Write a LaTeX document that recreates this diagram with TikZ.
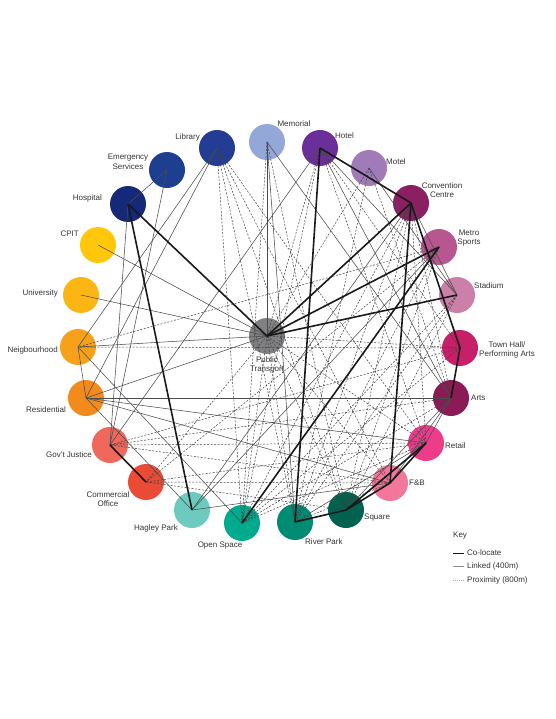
\documentclass[tikz,border=0pt]{standalone}
\usepackage{fontspec}
\setmainfont{Liberation Sans}

\definecolor{cmem}{HTML}{93A8D8}
\definecolor{chot}{HTML}{6B2F99}
\definecolor{cmot}{HTML}{A07BB7}
\definecolor{ccon}{HTML}{8A1F62}
\definecolor{cmet}{HTML}{B8568F}
\definecolor{csta}{HTML}{CC7FA9}
\definecolor{ctwn}{HTML}{C71F68}
\definecolor{cart}{HTML}{8A1B55}
\definecolor{cret}{HTML}{EC3C8A}
\definecolor{cfnb}{HTML}{F2779B}
\definecolor{csqu}{HTML}{00624F}
\definecolor{criv}{HTML}{008C73}
\definecolor{cops}{HTML}{00AA8D}
\definecolor{chag}{HTML}{6DCABF}
\definecolor{ccom}{HTML}{EB4B36}
\definecolor{cgov}{HTML}{F0675B}
\definecolor{cres}{HTML}{F28B1C}
\definecolor{cnei}{HTML}{F7A11A}
\definecolor{cuni}{HTML}{FBB614}
\definecolor{ccpit}{HTML}{FFC708}
\definecolor{chos}{HTML}{152978}
\definecolor{ceme}{HTML}{1E3F8F}
\definecolor{clib}{HTML}{233C94}
\definecolor{cpt}{HTML}{808082}

\tikzset{
  spot/.style={circle, minimum size=36pt, inner sep=0pt},
  lbl/.style={font=\fontsize{8}{9.5}\selectfont, text=black!80, inner sep=0pt, align=center},
  colocate/.style={line width=1.6pt, black!90},
  linked/.style={line width=0.55pt, black!70},
  proximity/.style={line width=0.5pt, black!75, dash pattern=on 2pt off 1.5pt},
}

\begin{document}
\begin{tikzpicture}[x=1pt,y=-1pt]
        \useasboundingbox (0,0) rectangle (555,719);

        \node[spot, fill=cmem] (mem) at (267,142) {};
        \node[spot, fill=chot] (hot) at (320,148) {};
        \node[spot, fill=cmot] (mot) at (369,168) {};
        \node[spot, fill=ccon] (con) at (411,203) {};
        \node[spot, fill=cmet] (met) at (439,247) {};
        \node[spot, fill=csta] (sta) at (457,295) {};
        \node[spot, fill=ctwn] (twn) at (460,348) {};
        \node[spot, fill=cart] (art) at (451,398) {};
        \node[spot, fill=cret] (ret) at (426,443) {};
        \node[spot, fill=cfnb] (fnb) at (390,483) {};
        \node[spot, fill=csqu] (squ) at (346,510) {};
        \node[spot, fill=criv] (riv) at (295,522) {};
        \node[spot, fill=cops] (ops) at (242,523) {};
        \node[spot, fill=chag] (hag) at (192,510) {};
        \node[spot, fill=ccom] (com) at (146,482) {};
        \node[spot, fill=cgov] (gov) at (110,445) {};
        \node[spot, fill=cres] (res) at (86,398) {};
        \node[spot, fill=cnei] (nei) at (78,347) {};
        \node[spot, fill=cuni] (uni) at (81,295) {};
        \node[spot, fill=ccpit] (cpit) at (98,245) {};
        \node[spot, fill=chos] (hos) at (128,204) {};
        \node[spot, fill=ceme] (eme) at (167,170) {};
        \node[spot, fill=clib] (lib) at (217,148) {};
        \node[spot, fill=cpt] (pt) at (267,336) {};

        \node[lbl] (memlbl) at (294,124) {Memorial};
        \node[lbl, anchor=west] (hotlbl) at (335,136) {Hotel};
        \node[lbl, anchor=west] (motlbl) at (386,162) {Motel};
        \node[lbl] (conlbl) at (442,190) {Convention\\Centre};
        \node[lbl] (metlbl) at (469,238) {Metro\\Sports};
        \node[lbl, anchor=west] (stalbl) at (474,286) {Stadium};
        \node[lbl] (twnlbl) at (507,350) {Town Hall/\\Performing Arts};
        \node[lbl, anchor=west] (artlbl) at (471,398) {Arts};
        \node[lbl, anchor=west] (retlbl) at (445,446) {Retail};
        \node[lbl, anchor=west] (fnblbl) at (409,483) {F\&B};
        \node[lbl, anchor=west] (squlbl) at (364,518) {Square};
        \node[lbl, anchor=west] (rivlbl) at (305,542) {River Park};
        \node[lbl] (opslbl) at (220,546) {Open Space};
        \node[lbl] (haglbl) at (156,528) {Hagley Park};
        \node[lbl] (comlbl) at (108,499) {Commercial\\Office};
        \node[lbl] (govlbl) at (69,455) {Gov't Justice};
        \node[lbl] (reslbl) at (46,410) {Residential};
        \node[lbl, anchor=east] (neilbl) at (58,350) {Neigbourhood};
        \node[lbl, anchor=east] (unilbl) at (58,293) {University};
        \node[lbl, anchor=east] (cpitlbl) at (79,234) {CPIT};
        \node[lbl, anchor=east] (hoslbl) at (102,198) {Hospital};
        \node[lbl] (emelbl) at (128,162) {Emergency\\Services};
        \node[lbl, anchor=east] (liblbl) at (200,137) {Library};
        \node[lbl] (ptlbl) at (267,365) {Public\\Transport};

        \draw[proximity] (lib.center) -- (ops.center);
        \draw[proximity] (lib.center) -- (riv.center);
        \draw[proximity] (lib.center) -- (squ.center);
        \draw[proximity] (lib.center) -- (fnb.center);
        \draw[proximity] (lib.center) -- (ret.center);
        \draw[proximity] (mem.center) -- (ops.center);
        \draw[proximity] (mem.center) -- (squ.center);
        \draw[proximity] (hot.center) -- (ops.center);
        \draw[proximity] (hot.center) -- (pt.center);
        \draw[proximity] (hot.center) -- (twn.center);
        \draw[proximity] (hot.center) -- (ret.center);
        \draw[proximity] (mot.center) -- (riv.center);
        \draw[proximity] (mot.center) -- (art.center);
        \draw[proximity] (mot.center) -- (pt.center);
        \draw[proximity] (con.center) -- (riv.center);
        \draw[proximity] (con.center) -- (squ.center);
        \draw[proximity] (con.center) -- (ret.center);
        \draw[proximity] (con.center) -- (art.center);
        \draw[proximity] (con.center) -- (ops.center);
        \draw[proximity] (met.center) -- (nei.center);
        \draw[proximity] (met.center) -- (com.center);
        \draw[proximity] (met.center) -- (riv.center);
        \draw[proximity] (met.center) -- (squ.center);
        \draw[proximity] (sta.center) -- (ops.center);
        \draw[proximity] (sta.center) -- (squ.center);
        \draw[proximity] (sta.center) -- (riv.center);
        \draw[proximity] (twn.center) -- (nei.center);
        \draw[proximity] (twn.center) -- (gov.center);
        \draw[proximity] (twn.center) -- (ops.center);
        \draw[proximity] (twn.center) -- (pt.center);
        \draw[proximity] (art.center) -- (gov.center);
        \draw[proximity] (art.center) -- (ops.center);
        \draw[proximity] (ret.center) -- (gov.center);
        \draw[proximity] (ret.center) -- (com.center);
        \draw[proximity] (ret.center) -- (pt.center);
        \draw[proximity] (ret.center) -- (ops.center);
        \draw[proximity] (fnb.center) -- (com.center);
        \draw[proximity] (fnb.center) -- (gov.center);
        \draw[proximity] (fnb.center) -- (pt.center);
        \draw[proximity] (fnb.center) -- (riv.center);
        \draw[proximity] (squ.center) -- (com.center);
        \draw[proximity] (squ.center) -- (pt.center);
        \draw[proximity] (pt.center) -- (com.center);
        \draw[proximity] (pt.center) -- (ops.center);
        \draw[proximity] (pt.center) -- (riv.center);

        \draw[linked] (eme.center) -- (hos.center);
        \draw[linked] (eme.center) -- (gov.center);
        \draw[linked] (hos.center) -- (gov.center);
        \draw[linked] (lib.center) -- (nei.center);
        \draw[linked] (lib.center) -- (res.center);
        \draw[linked] (mem.center) -- (pt.center);
        \draw[linked] (mem.center) -- (riv.center);
        \draw[linked] (mem.center) -- (art.center);
        \draw[linked] (hot.center) -- (gov.center);
        \draw[linked] (hot.center) -- (sta.center);
        \draw[linked] (hot.center) -- (art.center);
        \draw[linked] (mot.center) -- (sta.center);
        \draw[linked] (con.center) -- (sta.center);
        \draw[linked] (cpit.center) -- (pt.center);
        \draw[linked] (uni.center) -- (pt.center);
        \draw[linked] (nei.center) -- (pt.center);
        \draw[linked] (nei.center) -- (res.center);
        \draw[linked] (nei.center) -- (ops.center);
        \draw[linked] (res.center) -- (pt.center);
        \draw[linked] (res.center) -- (art.center);
        \draw[linked] (res.center) -- (ret.center);
        \draw[linked] (res.center) -- (fnb.center);
        \draw[linked] (res.center) -- (hag.center);
        \draw[linked] (hag.center) -- (met.center);
        \draw[linked] (hag.center) -- (con.center);
        \draw[linked] (hag.center) -- (fnb.center);
        \draw[linked] (art.center) -- (ret.center);
        \draw[linked] (art.center) -- (fnb.center);
        \draw[linked] (art.center) -- (squ.center);
        \draw[linked] (ret.center) -- (riv.center);

        \draw[colocate] (hos.center) -- (pt.center);
        \draw[colocate] (hos.center) -- (hag.center);
        \draw[colocate] (gov.center) -- (com.center);
        \draw[colocate] (hot.center) -- (con.center);
        \draw[colocate] (hot.center) -- (riv.center);
        \draw[colocate] (con.center) -- (pt.center);
        \draw[colocate] (con.center) -- (fnb.center);
        \draw[colocate] (con.center) -- (twn.center);
        \draw[colocate] (met.center) -- (pt.center);
        \draw[colocate] (met.center) -- (ops.center);
        \draw[colocate] (sta.center) -- (pt.center);
        \draw[colocate] (twn.center) -- (art.center);
        \draw[colocate] (ret.center) -- (fnb.center);
        \draw[colocate] (ret.center) -- (squ.center);
        \draw[colocate] (fnb.center) -- (squ.center);
        \draw[colocate] (squ.center) -- (riv.center);

        \node[lbl, anchor=west] (key) at (453,536) {Key};
        \coordinate (k1a) at (453,553);
        \coordinate (k1b) at (464,553);
        \coordinate (k2a) at (453,566);
        \coordinate (k2b) at (464,566);
        \coordinate (k3a) at (453,580);
        \coordinate (k3b) at (464,580);
        \draw[colocate, line width=1pt] (k1a) -- (k1b);
        \draw[linked, black!45] (k2a) -- (k2b);
        \draw[proximity, black!35, dash pattern=on 1pt off 1pt] (k3a) -- (k3b);
        \node[lbl, anchor=west] (k1lbl) at (467,553) {Co-locate};
        \node[lbl, anchor=west] (k2lbl) at (467,566) {Linked (400m)};
        \node[lbl, anchor=west] (k3lbl) at (467,580) {Proximity (800m)};
    \end{tikzpicture}
\end{document}
